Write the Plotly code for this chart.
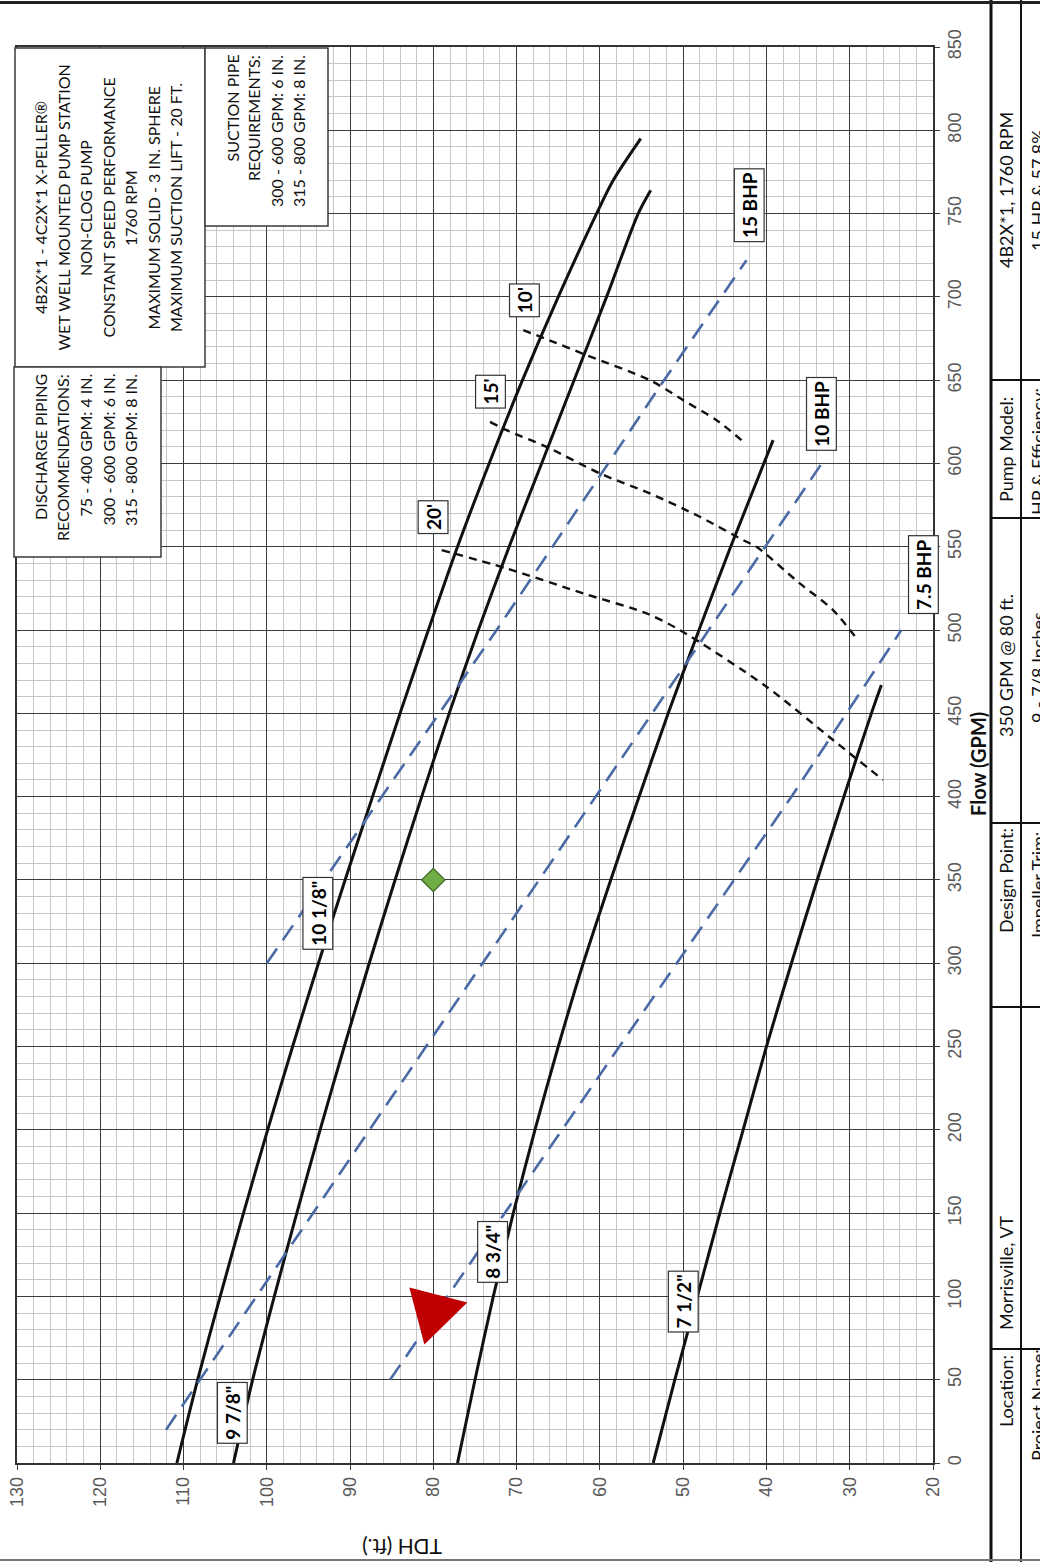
import plotly.graph_objects as go

W, H = 1040, 1562
L, R, T, B = 17, 107, 47, 99
PW, PH = W - L - R, H - T - B


def px(x):
    return (x - L) / PW


def py(y):
    return (H - B - y) / PH


# ---------------- data (flow in GPM, TDH in ft) ----------------
flow_10_1_8 = [0, 50, 100, 150, 200, 250, 300, 350, 400, 450, 500, 550, 600, 650, 700, 750, 770, 795]
tdh_10_1_8 = [110.8, 108.3, 105.6, 102.8, 99.9, 96.9, 93.8, 90.6, 87.3, 84.0, 80.6, 77.1, 73.3, 69.3, 65.0, 60.4, 58.4, 55.1]

flow_9_7_8 = [0, 50, 100, 150, 200, 250, 300, 350, 400, 450, 500, 550, 600, 650, 700, 750, 764]
tdh_9_7_8 = [104.0, 101.7, 99.1, 96.4, 93.6, 90.7, 87.7, 84.6, 81.4, 78.1, 74.6, 70.9, 67.0, 63.1, 59.2, 55.4, 53.9]

flow_8_3_4 = [0, 50, 100, 150, 200, 250, 300, 350, 400, 450, 500, 550, 614]
tdh_8_3_4 = [77.1, 75.0, 72.8, 70.4, 67.8, 65.0, 62.0, 58.7, 55.3, 51.8, 48.1, 44.3, 39.2]

flow_7_1_2 = [0, 50, 100, 150, 200, 250, 300, 350, 400, 450, 467]
tdh_7_1_2 = [53.6, 51.0, 48.3, 45.6, 42.8, 40.0, 37.0, 33.9, 30.7, 27.4, 26.2]

flow_15bhp = [300, 500, 650, 722]
tdh_15bhp = [100.0, 72.4, 52.3, 42.4]
flow_10bhp = [20, 266, 400, 599]
tdh_10bhp = [112.1, 78.7, 60.5, 33.5]
flow_7_5bhp = [50, 300, 400, 450, 500]
tdh_7_5bhp = [85.2, 50.8, 37.0, 30.4, 23.8]

flow_lift10 = [680, 675, 665, 650, 638, 626, 614]
tdh_lift10 = [69.2, 66.6, 61.6, 54.0, 50.0, 46.0, 43.0]
flow_lift15 = [625, 620, 610, 594, 582, 568, 554, 550, 528, 512, 495]
tdh_lift15 = [73.2, 71.2, 66.4, 60.0, 54.0, 48.0, 42.8, 41.2, 36.0, 32.0, 29.2]
flow_lift20 = [548, 537, 522, 510, 500, 466, 434, 410]
tdh_lift20 = [79.0, 71.2, 62.0, 54.4, 50.4, 40.0, 32.0, 26.0]

design_flow, design_tdh = [350], [80]
pointer_flow, pointer_tdh = [91], [80]

# curve labels: (text, tdh, flow)
curve_labels = [
    ('10 1/8"', 93.9, 330), ('9 7/8"', 104.2, 30), ('8 3/4"', 72.9, 127), ('7 1/2"', 50.0, 97),
    ("10'", 69.1, 698), ("15'", 73.1, 643), ("20'", 80.0, 568),
    ('15 BHP', 42.1, 755), ('10 BHP', 33.4, 630), ('7.5 BHP', 21.2, 533),
]

tdh_ticks = [130, 120, 110, 100, 90, 80, 70, 60, 50, 40, 30, 20]
flow_ticks = list(range(0, 851, 50))

box1_lines = ["4B2X*1 - 4C2X*1 X-PELLER®", "WET WELL MOUNTED PUMP STATION", "NON-CLOG PUMP",
              "CONSTANT SPEED PERFORMANCE", "1760 RPM", "MAXIMUM SOLID - 3 IN. SPHERE",
              "MAXIMUM SUCTION LIFT - 20 FT."]
box2_lines = ["DISCHARGE PIPING", "RECOMMENDATIONS:", "75 - 400 GPM: 4 IN.",
              "300 - 600 GPM: 6 IN.", "315 - 800 GPM: 8 IN."]
box3_lines = ["SUCTION PIPE", "REQUIREMENTS:", "300 - 600 GPM: 6 IN.", "315 - 800 GPM: 8 IN."]

table_col1 = [("Location:", 1391), ("Morrisville, VT", 1272), ("Design Point:", 880),
              ("350 GPM @ 80 ft.", 665), ("Pump Model:", 449), ("4B2X*1, 1760 RPM", 190)]
table_col2 = [("Project Name:", 1405), ("Impeller Trim:", 885), ("9 - 7/8 Inches", 668),
              ("HP & Efficiency:", 452), ("15 HP & 57.8%", 190)]

# ---------------- figure ----------------
BLACK = '#111111'
BLUE = '#4a6aa6'
fig = go.Figure()


def add_line(flow, tdh, color, width, dash, shape='spline'):
    fig.add_trace(go.Scatter(x=tdh, y=flow, mode='lines',
                             line=dict(color=color, width=width, dash=dash, shape=shape, smoothing=0.8),
                             hoverinfo='skip', showlegend=False))


for f, t in [(flow_10_1_8, tdh_10_1_8), (flow_9_7_8, tdh_9_7_8), (flow_8_3_4, tdh_8_3_4), (flow_7_1_2, tdh_7_1_2)]:
    add_line(f, t, BLACK, 3, 'solid')
for f, t in [(flow_15bhp, tdh_15bhp), (flow_10bhp, tdh_10bhp), (flow_7_5bhp, tdh_7_5bhp)]:
    add_line(f, t, BLUE, 2.6, '18px,10px', 'linear')
for f, t in [(flow_lift10, tdh_lift10), (flow_lift15, tdh_lift15), (flow_lift20, tdh_lift20)]:
    add_line(f, t, BLACK, 2.4, '8px,6px')

fig.add_trace(go.Scatter(x=design_tdh, y=design_flow, mode='markers',
                         marker=dict(symbol='diamond', size=18, color='#70ad47', line=dict(color='#3b5e22', width=1.2)),
                         hoverinfo='skip', showlegend=False))

annotations = []
shapes = []

# red pointer triangle anchored at a data point
shapes.append(dict(type='path', xref='x', yref='y', xsizemode='pixel', ysizemode='pixel',
                   xanchor=pointer_tdh[0], yanchor=pointer_flow[0],
                   path='M -24,24 L 34,9 L -9,-33 Z', fillcolor='#c00000', line=dict(width=0), layer='above'))

for txt, t, f in curve_labels:
    annotations.append(dict(x=t, y=f, xref='x', yref='y', text='<b>' + txt + '</b>', showarrow=False,
                            textangle=-90, font=dict(family='Lato', size=19, color='#000'),
                            xanchor='center', yanchor='middle',
                            bgcolor='white', bordercolor='#333', borderwidth=1.2, borderpad=3))


def paper_text(x, y, s, font, angle=-90, xa='center', ya='middle'):
    annotations.append(dict(x=px(x), y=py(y), xref='paper', yref='paper', text=s, showarrow=False,
                            textangle=angle, font=font, xanchor=xa, yanchor=ya))


# info boxes
TXT_FONT = dict(family='Lato', size=16, color='#111')
for (x0, y0, x1, y1) in [(15, 48, 205, 367), (14, 367, 161, 557), (205, 48, 328, 226)]:
    shapes.append(dict(type='rect', xref='paper', yref='paper', x0=px(x0), x1=px(x1), y0=py(y1), y1=py(y0),
                       fillcolor='white', line=dict(color='#3a3a3a', width=1.5), layer='above'))
for i, s in enumerate(box1_lines):
    paper_text(40 + 22.5 * i, 208, s, TXT_FONT)
for i, s in enumerate(box2_lines):
    paper_text(40 + 22.5 * i, 372, s, TXT_FONT, ya='top')
for i, s in enumerate(box3_lines):
    paper_text(232 + 22 * i, 53, s, TXT_FONT, ya='top')

# axis titles
paper_text(978, 764, '<b>Flow (GPM)</b>', dict(family='Lato', size=20, color='#111'))
paper_text(402, 1548, 'TDH (ft.)', dict(family='Lato', size=21, color='#111'), angle=180)

# right-side table
TAB_FONT = dict(family='Lato', size=18, color='#111')
for s, yy in table_col1:
    paper_text(1006, yy, s, TAB_FONT)
for s, yy in table_col2:
    paper_text(1038, yy, s, TAB_FONT)

shapes.append(dict(type='line', xref='paper', yref='paper', x0=px(991), x1=px(991), y0=py(1562), y1=py(0),
                   line=dict(color='#111', width=3)))
shapes.append(dict(type='line', xref='paper', yref='paper', x0=px(1021), x1=px(1021), y0=py(1562), y1=py(0),
                   line=dict(color='#111', width=2)))
for yy in [380, 518, 823, 1007, 1349]:
    shapes.append(dict(type='line', xref='paper', yref='paper', x0=px(991), x1=px(1040), y0=py(yy), y1=py(yy),
                       line=dict(color='#111', width=2)))
shapes.append(dict(type='line', xref='paper', yref='paper', x0=px(0), x1=px(1040), y0=py(2.5), y1=py(2.5),
                   line=dict(color='#222', width=3)))
shapes.append(dict(type='line', xref='paper', yref='paper', x0=px(0), x1=px(1040), y0=py(1560), y1=py(1560),
                   line=dict(color='#777', width=2)))

axis_common = dict(
    showgrid=True, gridcolor='#3c3c3c', gridwidth=1.3,
    ticks='outside', ticklen=5, tickcolor='#3c3c3c', tickwidth=1.3,
    tickangle=-90, tickfont=dict(family='Liberation Sans, Arial', size=18, color='#595959'),
    showline=True, linecolor='#333', linewidth=1.5, mirror=True, zeroline=False,
)
fig.update_layout(
    width=W, height=H, margin=dict(l=L, r=R, t=T, b=B, autoexpand=False),
    paper_bgcolor='white', plot_bgcolor='white',
    xaxis=dict(range=[130, 20], tickvals=tdh_ticks, minor=dict(dtick=2, showgrid=True, gridcolor='#c6c6c6', gridwidth=1),
               **axis_common),
    yaxis=dict(range=[0, 850], tickvals=flow_ticks, side='right',
               minor=dict(dtick=10, showgrid=True, gridcolor='#c6c6c6', gridwidth=1), **axis_common),
    annotations=annotations, shapes=shapes, showlegend=False,
)
fig.write_html("out.html", config={'displayModeBar': False},
               post_script="document.body.style.margin='0px';")
